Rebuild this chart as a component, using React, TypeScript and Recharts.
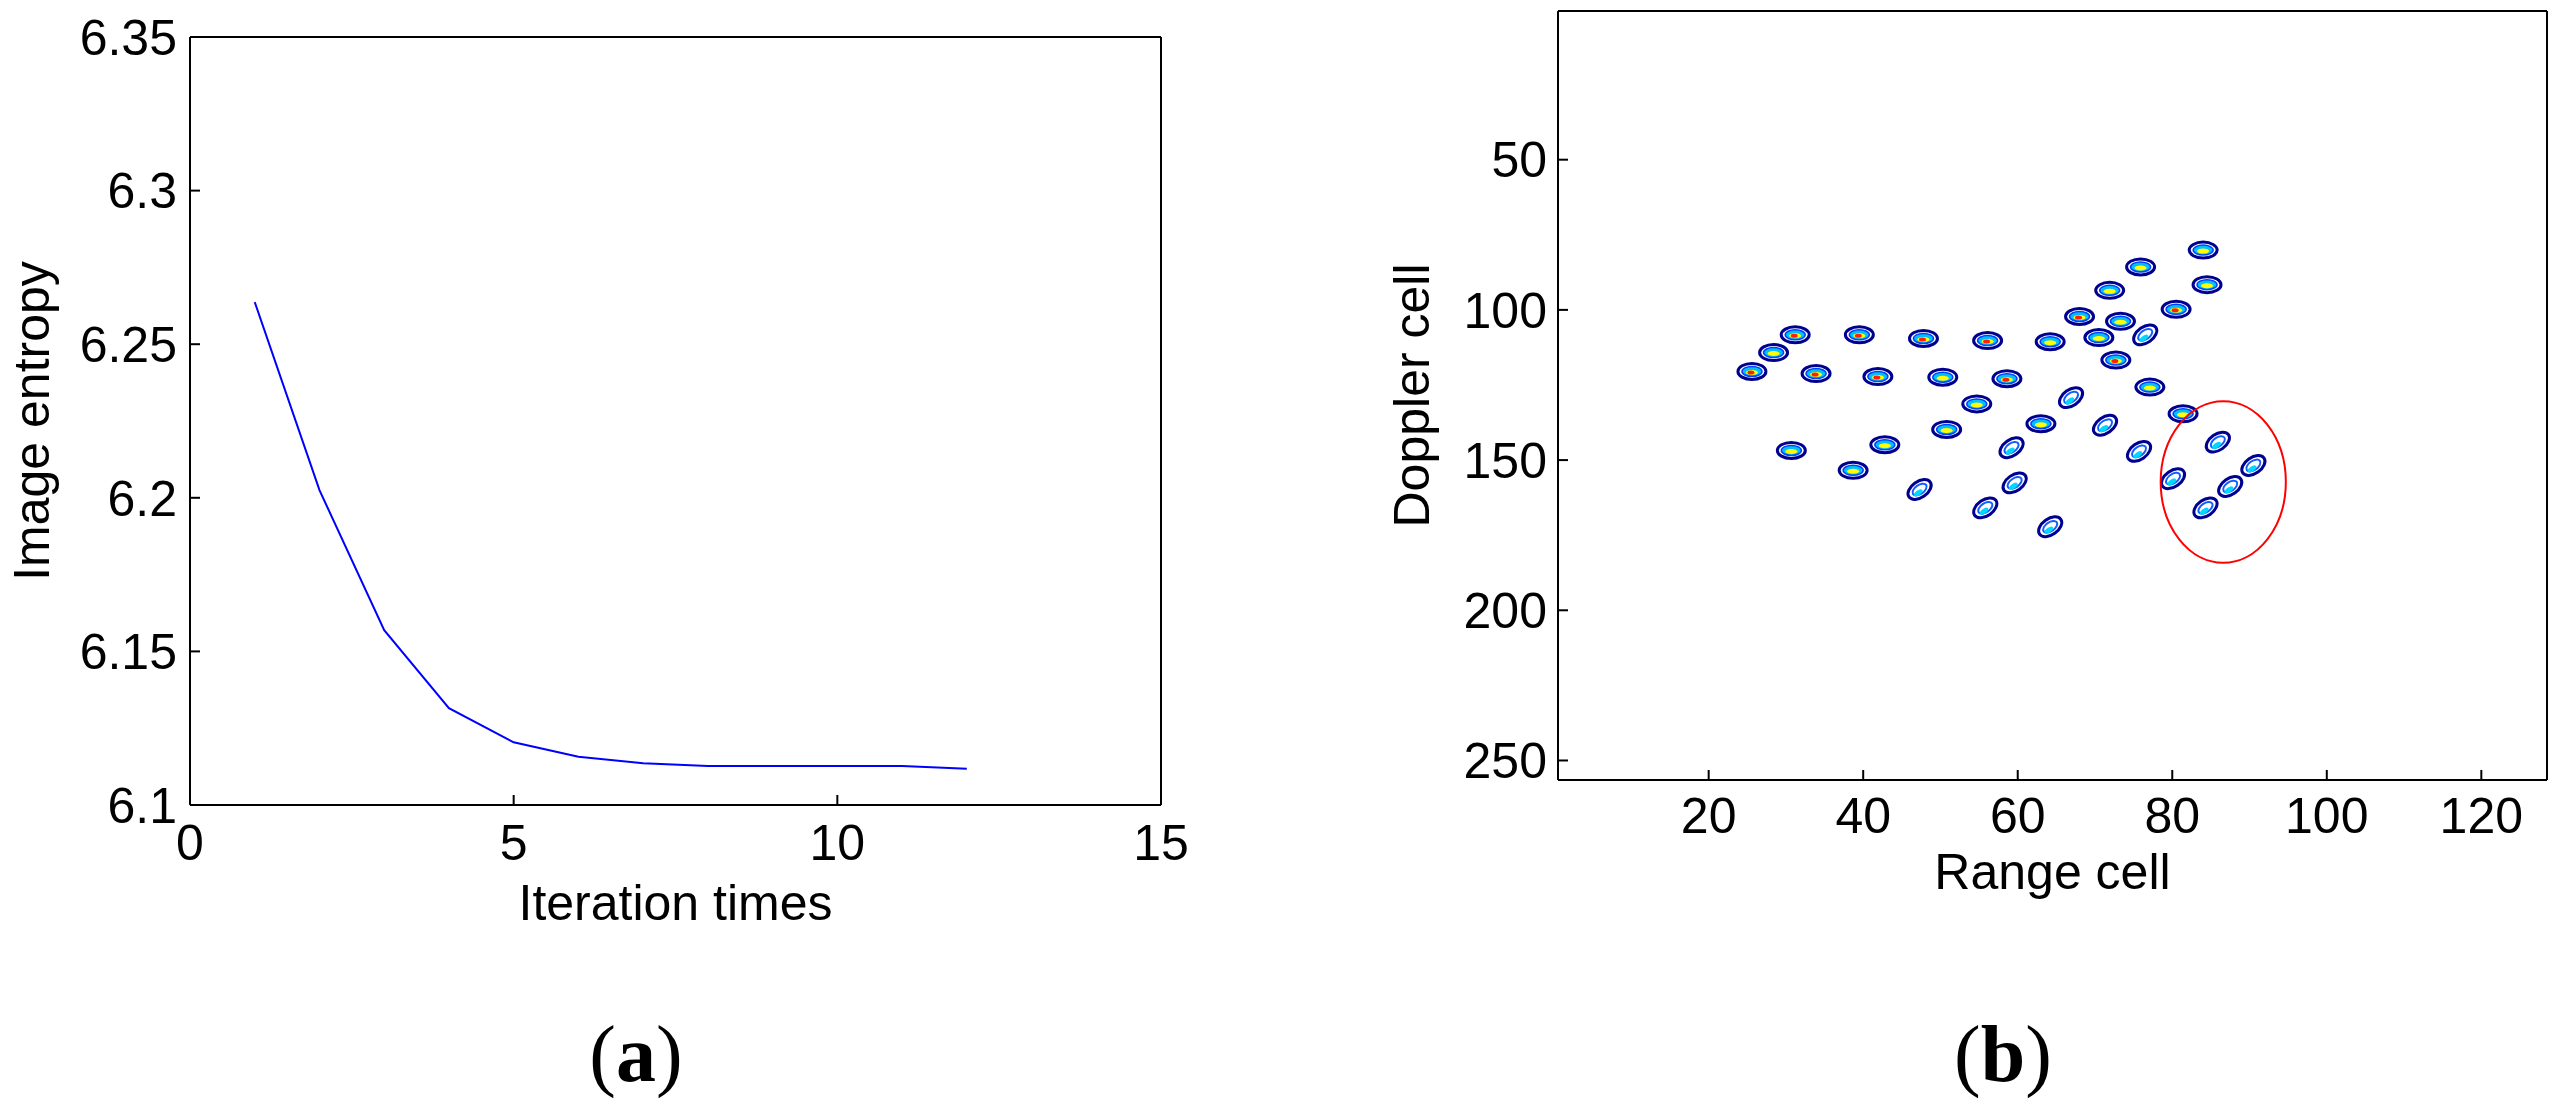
import React from 'react';
import { LineChart, Line, ScatterChart, Scatter, XAxis, YAxis, Label } from 'recharts';

// (a) image entropy per iteration
const iterations = [1, 2, 3, 4, 5, 6, 7, 8, 9, 10, 11, 12];
const entropy = [6.2637, 6.2025, 6.1569, 6.1315, 6.1204, 6.1157, 6.1136, 6.1127, 6.1127, 6.1127, 6.1127, 6.1118];
const entropyXTicks = [0, 5, 10, 15];
const entropyYTicks = [6.1, 6.15, 6.2, 6.25, 6.3, 6.35];

// (b) ISAR image scatterers: range cell, doppler cell, peak level (1 weak .. 3 strong)
const rangeCells = [84.0, 75.9, 84.5, 71.9, 80.5, 68.0, 73.3, 31.2, 39.5, 47.8, 56.1, 64.2, 70.5, 76.5, 28.4, 25.6, 33.9, 41.9, 50.3, 58.6, 72.7, 77.1, 66.9, 54.7, 81.4, 63.0, 71.3, 50.8, 42.8, 85.9, 30.7, 59.2, 75.7, 90.5, 38.7, 80.1, 87.5, 59.6, 47.3, 55.8, 84.3, 64.2];
const dopplerCells = [80.1, 85.7, 91.6, 93.5, 99.8, 102.2, 103.8, 108.3, 108.3, 109.5, 110.2, 110.6, 109.2, 108.3, 114.2, 120.5, 121.2, 122.2, 122.4, 122.9, 116.7, 125.7, 129.2, 131.3, 134.6, 137.9, 138.4, 139.8, 144.9, 144.0, 146.8, 145.9, 147.1, 151.8, 153.4, 156.2, 158.8, 157.6, 159.8, 165.9, 165.9, 172.2];
const peakLevels = [2, 2, 2, 2, 3, 3, 2, 3, 3, 3, 3, 2, 2, 1, 2, 3, 3, 3, 2, 3, 3, 2, 1, 2, 2, 2, 1, 2, 2, 1, 2, 1, 1, 1, 2, 1, 1, 1, 1, 1, 1, 1];
const rangeTicks = [20, 40, 60, 80, 100, 120];
const dopplerTicks = [50, 100, 150, 200, 250];

// circled region (centre and semi-axes in cells)
const circleRange = [86.6];
const circleDoppler = [157.3];
const circleHalfRange = [8.1];
const circleHalfDoppler = [26.9];

const entropyData = iterations.map((it, i) => ({ it, e: entropy[i] }));
const blobData = rangeCells.map((r, i) => ({ r, d: dopplerCells[i], level: peakLevels[i] }));
const circleData = circleRange.map((r, i) => ({ r, d: circleDoppler[i], hr: circleHalfRange[i], hd: circleHalfDoppler[i] }));

const FONT = '"Liberation Sans", Arial, sans-serif';
const tickStyle = { fill: '#000', fontSize: 50, fontFamily: FONT };
const axisLine = { stroke: '#000', strokeWidth: 2 };

// right panel plot box
const B_W = 989;
const B_H = 769;
const pxPerRange = B_W / 128;
const pxPerDoppler = B_H / 256;

const renderBlob = (props: any) => {
  const { cx, cy, payload } = props;
  if (cx == null || cy == null) return null;
  const lvl = payload.level;
  if (lvl === 1) {
    // weak, smeared scatterers: open contours tilted along the motion
    return (
      <g transform={`rotate(-35 ${cx} ${cy})`}>
        <ellipse cx={cx} cy={cy} rx={13} ry={8} fill="#fff" stroke="#00008f" strokeWidth={3} />
        <ellipse cx={cx} cy={cy} rx={8} ry={4.5} fill="#fff" stroke="#1060ff" strokeWidth={2} />
        <ellipse cx={cx - 3} cy={cy + 2} rx={5} ry={2.5} fill="#00d8ff" />
      </g>
    );
  }
  return (
    <g>
      <ellipse cx={cx} cy={cy} rx={14} ry={8} fill="#fff" stroke="#00008f" strokeWidth={3} />
      <ellipse cx={cx} cy={cy} rx={10} ry={5} fill="#00c0ff" stroke="#0040ff" strokeWidth={1.5} />
      <ellipse cx={cx} cy={cy + 1} rx={6} ry={2.5} fill="#ffff00" />
      {lvl === 3 && <ellipse cx={cx - 1} cy={cy + 1} rx={3.5} ry={2} fill="#ff2000" />}
    </g>
  );
};

const renderCircle = (props: any) => {
  const { cx, cy, payload } = props;
  if (cx == null || cy == null) return null;
  return (
    <ellipse
      cx={cx}
      cy={cy}
      rx={payload.hr * pxPerRange}
      ry={payload.hd * pxPerDoppler}
      fill="none"
      stroke="#ff0000"
      strokeWidth={2}
    />
  );
};

export default function App() {
  return (
    <div style={{ position: 'relative', width: 2572, height: 1108, background: '#fff', overflow: 'hidden' }}>
      <style>{'body{margin:0;background:#fff}'}</style>

      <div style={{ position: 'absolute', left: 0, top: 0 }}>
        <LineChart width={1201} height={1108} data={entropyData} margin={{ top: 27, right: 0, bottom: 153, left: 0 }}>
          <XAxis
            dataKey="it"
            type="number"
            domain={[0, 15]}
            ticks={entropyXTicks}
            allowDataOverflow
            height={150}
            axisLine={axisLine}
            tickLine={axisLine}
            tickSize={-10}
            tickMargin={29}
            tick={tickStyle}
          >
            <Label value="Iteration times" position="insideBottom" offset={35} style={{ fontSize: 50, fontFamily: FONT, fill: '#000' }} />
          </XAxis>
          <XAxis
            xAxisId="top"
            orientation="top"
            type="number"
            domain={[0, 15]}
            ticks={entropyXTicks}
            allowDataOverflow
            height={10}
            axisLine={axisLine}
            tickLine={axisLine}
            tickSize={-10}
            tick={false}
          />
          <YAxis
            type="number"
            domain={[6.1, 6.35]}
            ticks={entropyYTicks}
            allowDataOverflow
            width={190}
            axisLine={axisLine}
            tickLine={axisLine}
            tickSize={-10}
            tickMargin={23}
            tick={tickStyle}
          >
            <Label
              value="Image entropy"
              angle={-90}
              position="insideLeft"
              offset={31}
              style={{ fontSize: 50, fontFamily: FONT, fill: '#000', textAnchor: 'middle' }}
            />
          </YAxis>
          <YAxis
            yAxisId="right"
            orientation="right"
            type="number"
            domain={[6.1, 6.35]}
            ticks={entropyYTicks}
            allowDataOverflow
            width={40}
            axisLine={axisLine}
            tickLine={axisLine}
            tickSize={-10}
            tick={false}
          />
          <Line dataKey="e" type="linear" stroke="#0000ff" strokeWidth={2} dot={false} isAnimationActive={false} />
        </LineChart>
      </div>

      <div style={{ position: 'absolute', left: 1286, top: 0 }}>
        <ScatterChart width={1281} height={1108} margin={{ top: 1, right: 0, bottom: 178, left: 0 }}>
          <XAxis
            dataKey="r"
            type="number"
            domain={[0.5, 128.5]}
            ticks={rangeTicks}
            allowDataOverflow
            height={150}
            axisLine={axisLine}
            tickLine={axisLine}
            tickSize={-10}
            tickMargin={27}
            tick={tickStyle}
          >
            <Label value="Range cell" position="insideBottom" offset={41} style={{ fontSize: 50, fontFamily: FONT, fill: '#000' }} />
          </XAxis>
          <XAxis
            xAxisId="top"
            orientation="top"
            dataKey="r"
            type="number"
            domain={[0.5, 128.5]}
            ticks={rangeTicks}
            allowDataOverflow
            height={10}
            axisLine={axisLine}
            tickLine={axisLine}
            tickSize={-10}
            tick={false}
          />
          <YAxis
            dataKey="d"
            type="number"
            reversed
            domain={[0.5, 256.5]}
            ticks={dopplerTicks}
            allowDataOverflow
            width={272}
            axisLine={axisLine}
            tickLine={axisLine}
            tickSize={-10}
            tickMargin={21}
            tick={tickStyle}
          >
            <Label
              value="Doppler cell"
              angle={-90}
              position="insideLeft"
              offset={125}
              style={{ fontSize: 50, fontFamily: FONT, fill: '#000', textAnchor: 'middle' }}
            />
          </YAxis>
          <YAxis
            yAxisId="right"
            orientation="right"
            dataKey="d"
            type="number"
            reversed
            domain={[0.5, 256.5]}
            ticks={dopplerTicks}
            allowDataOverflow
            width={20}
            axisLine={axisLine}
            tickLine={axisLine}
            tickSize={-10}
            tick={false}
          />
          <Scatter data={blobData} shape={renderBlob} isAnimationActive={false} />
          <Scatter data={circleData} shape={renderCircle} isAnimationActive={false} />
        </ScatterChart>
      </div>

      <svg width={2572} height={1108} style={{ position: 'absolute', left: 0, top: 0, pointerEvents: 'none' }}>
        <text x={636} y={1081} textAnchor="middle" fontFamily='"Liberation Serif", "Times New Roman", serif' fontSize={80} fill="#000">
          (<tspan fontWeight="bold">a</tspan>)
        </text>
        <text x={2003} y={1081} textAnchor="middle" fontFamily='"Liberation Serif", "Times New Roman", serif' fontSize={80} fill="#000">
          (<tspan fontWeight="bold">b</tspan>)
        </text>
      </svg>
    </div>
  );
}
